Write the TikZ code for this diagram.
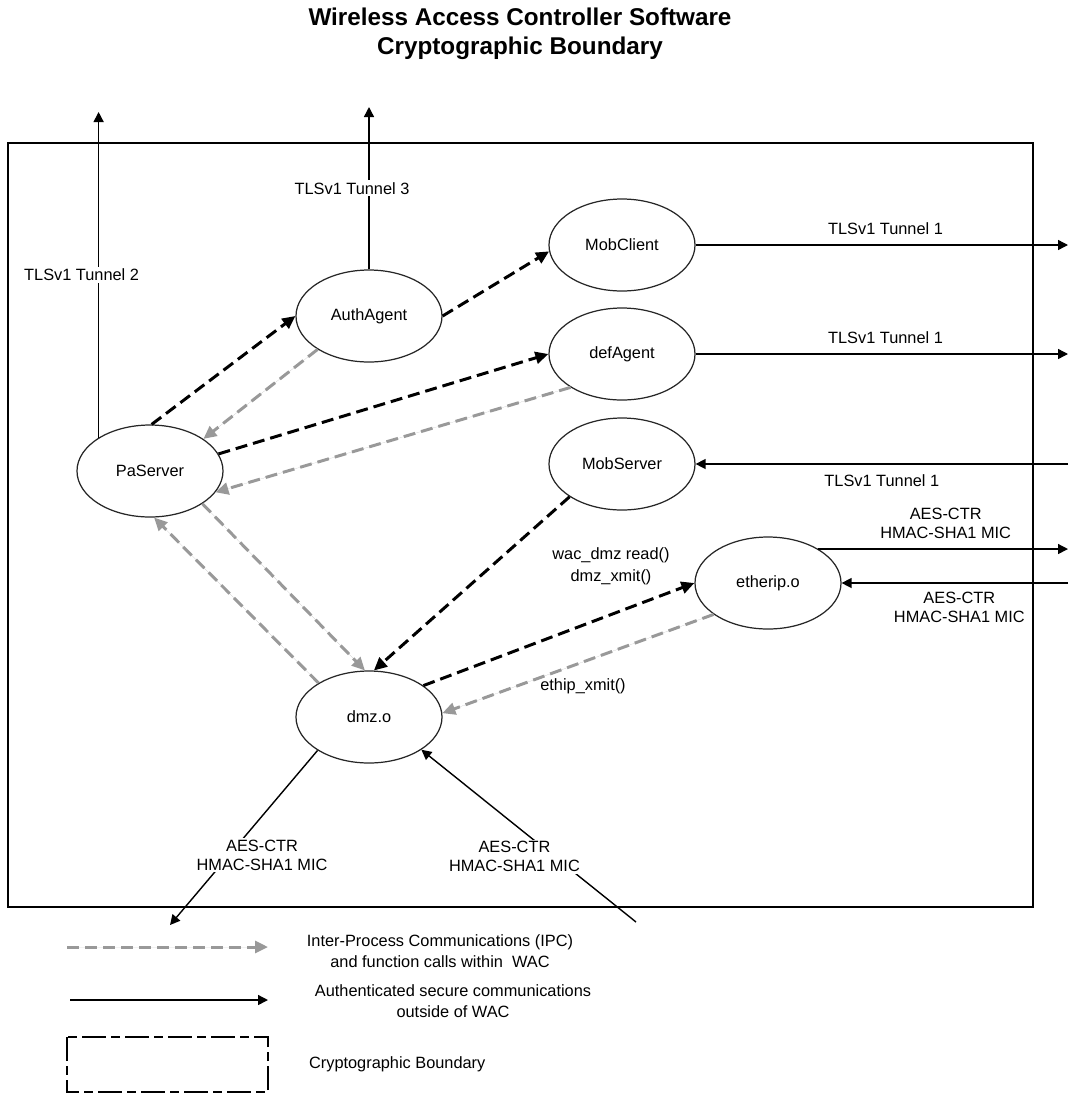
\documentclass[tikz,border=0pt]{standalone}
\usepackage{fontspec}
\setmainfont{Liberation Sans}
\usetikzlibrary{arrows.meta,shapes.geometric}
\definecolor{ipcgray}{gray}{0.6}
\newcommand\lblfont{\fontsize{9.3}{10.8}\selectfont}

\begin{document}
\begin{tikzpicture}[x=0.2mm, y=-0.2mm,
  proc/.style={ellipse, draw=black!85, line width=0.7pt, minimum width=29.2mm, minimum height=18.4mm, inner sep=0pt, font=\lblfont},
  lbl/.style={font=\lblfont, align=center, inner sep=1pt},
  secure/.style={draw, line width=0.8pt, -{Triangle[length=2mm, width=2mm]}},
  call/.style={draw, line width=1.7pt, dash pattern=on 2.4mm off 1.2mm, -{Triangle[length=2.6mm, width=2.4mm]}},
  ipc/.style={call, draw=ipcgray, fill=ipcgray}]
\useasboundingbox (0,0) rectangle (1069,1095);

% Title
\node[font=\bfseries\fontsize{13.8}{16.5}\selectfont, align=center] (title) at (520,34) {Wireless Access Controller Software\\Cryptographic Boundary};

% Boundary
\draw[line width=1.1pt] (8,143) rectangle (1033,907);

% Processes
\node[proc] (PaServer) at (150,471) {PaServer};
\node[proc] (AuthAgent) at (369,316) {AuthAgent};
\node[proc] (MobClient) at (622,245) {MobClient};
\node[proc] (defAgent) at (622,354) {defAgent};
\node[proc] (MobServer) at (622,464) {MobServer};
\node[proc] (etherip) at (768,583) {etherip.o};
\node[proc] (dmz) at (369,717) {dmz.o};

% Outside end points
\coordinate (up2) at (100,112);
\coordinate (up3) at (369,107);
\coordinate (rside) at (1068,0);
\coordinate (dmzout) at (170,925);
\coordinate (dmzin) at (636,922);

% Secure communications
\draw[secure] (PaServer.147) -- (PaServer.147 |- up2) node[lbl, midway, fill=white, xshift=-3.4mm] {TLSv1 Tunnel 2};
\draw[secure] (AuthAgent.north) -- (up3) node[lbl, midway, fill=white, xshift=-3.4mm] {TLSv1 Tunnel 3};
\draw[secure] (MobClient.east) -- (MobClient.east -| rside) node[lbl, pos=.51, yshift=3.2mm] {TLSv1 Tunnel 1};
\draw[secure] (defAgent.east) -- (defAgent.east -| rside) node[lbl, pos=.51, yshift=3.2mm] {TLSv1 Tunnel 1};
\draw[secure] (MobServer.east -| rside) -- (MobServer.east) node[lbl, pos=.5, yshift=-3.4mm] {TLSv1 Tunnel 1};
\draw[secure] (etherip.34) -- (etherip.34 -| rside) node[lbl, pos=.51, yshift=5.1mm] {AES-CTR\\HMAC-SHA1 MIC};
\draw[secure] (etherip.east -| rside) -- (etherip.east) node[lbl, pos=.48, yshift=-4.9mm] {AES-CTR\\HMAC-SHA1 MIC};
\draw[secure] (dmz.213) -- (dmzout) node[lbl, pos=.6, xshift=6.6mm, fill=white] {AES-CTR\\HMAC-SHA1 MIC};
\draw[secure] (dmzin) -- (dmz.328) node[lbl, pos=.38, xshift=-8mm, fill=white] {AES-CTR\\HMAC-SHA1 MIC};

% Calls within WAC
\draw[call] (PaServer.88) -- (AuthAgent.180);
\draw[call] (AuthAgent.east) -- (MobClient.185);
\draw[call] (PaServer.14) -- (defAgent.180);
\draw[call] (MobServer.212) -- (dmz.84);
\draw[call] (dmz.30) -- (etherip.180);
\draw[ipc] (AuthAgent.213) -- (PaServer.31);
\draw[ipc] (defAgent.213) -- (PaServer.342);
\draw[ipc] (PaServer.328) -- (dmz.95);
\draw[ipc] (dmz.146) -- (PaServer.275);
\draw[ipc] (etherip.210) -- (dmz.3);

\node[lbl, font=\fontsize{9.3}{12.5}\selectfont] (wacread) at (611,566) {wac\_dmz read()\\dmz\_xmit()};
\node[lbl] (ethipxmit) at (583,686) {ethip\_xmit()};

% Legend
\coordinate (ipcA) at (67,947);
\coordinate (ipcB) at (268,947);
\coordinate (secA) at (70,1000);
\coordinate (secB) at (268,1000);
\draw[ipc] (ipcA) -- (ipcB);
\draw[secure] (secA) -- (secB);
\draw[line width=1.1pt, dash pattern=on 4.8mm off 1mm on 1.8mm off 1mm] (67,1037) rectangle (268,1092);
\node[lbl, font=\fontsize{9.3}{11.9}\selectfont] (ipctext) at (440,951) {Inter-Process Communications (IPC)\\and function calls within\ \ WAC};
\node[lbl, font=\fontsize{9.3}{11.9}\selectfont] (sectext) at (453,1001) {Authenticated secure communications\\outside of WAC};
\node[lbl, anchor=west] (bndtext) at (307,1064) {Cryptographic Boundary};
\end{tikzpicture}
\end{document}
